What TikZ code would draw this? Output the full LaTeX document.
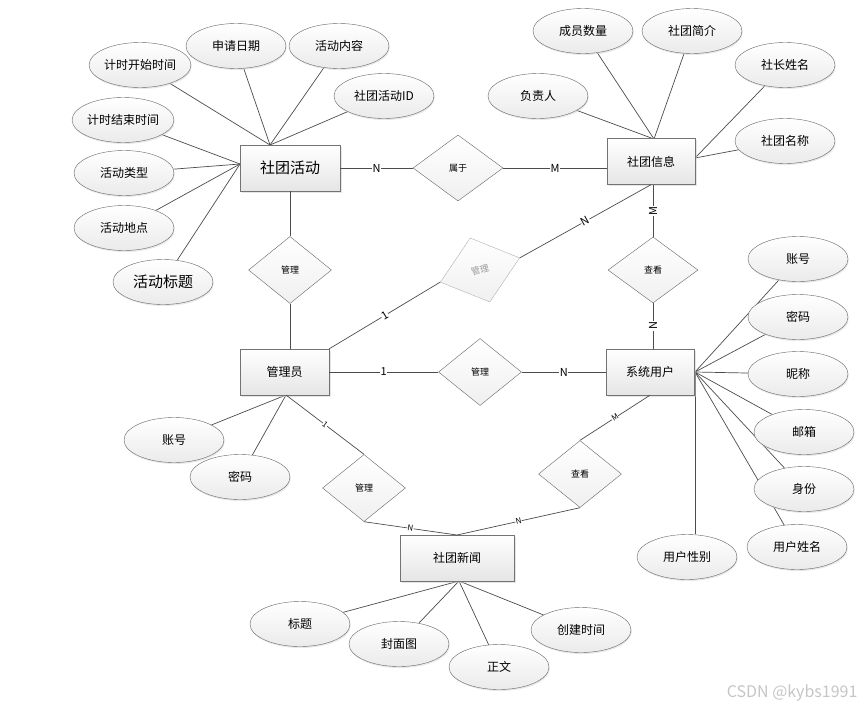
\documentclass[tikz,border=0pt]{standalone}
\usepackage{fontspec}
\setmainfont{Noto Sans CJK SC}
\usetikzlibrary{shapes.geometric,shadows}
\pgfdeclarelayer{bg}
\pgfsetlayers{bg,main}
\begin{document}
\begin{tikzpicture}[x=1pt,y=-1pt,
  ent/.style={rectangle, draw=gray!90!black, top color=white, bottom color=gray!20,
    drop shadow={shadow xshift=1.5pt,shadow yshift=-1.5pt,fill=gray!40},
    minimum width=88pt, minimum height=46pt, inner sep=0pt, font=\fontsize{12}{14}\selectfont},
  attr/.style={ellipse, draw=gray!80!black, top color=white, bottom color=gray!16,
    drop shadow={shadow xshift=0.8pt,shadow yshift=-1.5pt,fill=gray!35},
    minimum width=100pt, minimum height=45pt, inner sep=0pt, font=\fontsize{12}{14}\selectfont},
  rel/.style={diamond, draw=gray!80!black, top color=white, bottom color=gray!12,
    minimum width=83pt, minimum height=67pt, inner sep=0pt, font=\fontsize{9}{10}\selectfont},
  con/.style={draw=black!70, line width=0.7pt},
  lbl/.style={fill=white, inner sep=0.6pt, font=\fontsize{11}{12}\selectfont},
  slbl/.style={fill=white, inner sep=0.3pt, font=\fontsize{8}{9}\selectfont},
]
\useasboundingbox (0,0) rectangle (864,710);

% entities
\node[ent, minimum width=100pt, font=\fontsize{15}{16}\selectfont] (sa) at (290,168) {社团活动};
\node[ent] (si) at (651,161.5) {社团信息};
\node[ent, minimum width=89pt] (gly) at (284.5,372) {管理员};
\node[ent] (user) at (650,372) {系统用户};
\node[ent, minimum width=114pt] (news) at (457,558) {社团新闻};

% relationships
\node[rel, minimum width=90pt, minimum height=66pt] (sy) at (458,168) {属于};
\node[rel] (gl1) at (290,270) {管理};
\node[rel, rotate=17, draw=gray!60, text=gray!80] (gl2) at (480,270) {管理};
\node[rel, minimum width=90pt, minimum height=66pt] (ck1) at (653,270) {查看};
\node[rel] (gl3) at (480,372) {管理};
\node[rel] (gl4) at (364,488) {管理};
\node[rel] (ck2) at (580,474) {查看};

% attributes of 社团活动
\node[attr] (a1) at (140,65) {计时开始时间};
\node[attr] (a2) at (236,46) {申请日期};
\node[attr] (a3) at (339,46) {活动内容};
\node[attr] (a4) at (384,96) {社团活动ID};
\node[attr] (a5) at (123,120) {计时结束时间};
\node[attr] (a6) at (124,173) {活动类型};
\node[attr] (a7) at (124,228) {活动地点};
\node[attr, font=\fontsize{15}{16}\selectfont] (a8) at (163,282) {活动标题};

% attributes of 社团信息
\node[attr] (b1) at (583,31) {成员数量};
\node[attr] (b2) at (692,31) {社团简介};
\node[attr] (b3) at (785,65) {社长姓名};
\node[attr] (b4) at (538,96) {负责人};
\node[attr] (b5) at (785,141) {社团名称};

% attributes of 系统用户
\node[attr] (u1) at (798,259) {账号};
\node[attr] (u2) at (798,317) {密码};
\node[attr] (u3) at (798,374) {昵称};
\node[attr] (u4) at (804,432) {邮箱};
\node[attr] (u5) at (804,489) {身份};
\node[attr] (u6) at (797,547) {用户姓名};
\node[attr] (u7) at (687,557) {用户性别};

% attributes of 管理员
\node[attr] (g1) at (174,440) {账号};
\node[attr] (g2) at (240,477) {密码};

% attributes of 社团新闻
\node[attr] (n1) at (300,624) {标题};
\node[attr] (n2) at (399,644) {封面图};
\node[attr] (n3) at (499,667) {正文};
\node[attr] (n4) at (581,630) {创建时间};

% watermark
\node[text=gray!45, font=\fontsize{16}{18}\selectfont, anchor=east] (wm) at (861,693) {CSDN @kybs1991};

% junction points on entity borders
\coordinate (saT) at (270,145);
\coordinate (saL) at (240,164);
\coordinate (siT) at (654,139);
\coordinate (siR) at (695,158);
\coordinate (uR) at (695,372);
\coordinate (gB) at (286,395);
\coordinate (nT) at (457,535);
\coordinate (nB) at (459,581);

\begin{pgfonlayer}{bg}
\fill[white] (0,0) rectangle (864,710);
\foreach \a in {a1,a2,a3,a4} \draw[con] (\a) -- (saT);
\foreach \a in {a5,a6,a7,a8} \draw[con] (\a) -- (saL);
\foreach \a in {b1,b2,b4} \draw[con] (\a) -- (siT);
\foreach \a in {b3,b5} \draw[con] (\a) -- (siR);
\foreach \a in {u1,u2,u3,u4,u5,u6} \draw[con] (\a) -- (uR);
\draw[con] (uR) -- (uR |- u7.north);
\foreach \a in {g1,g2} \draw[con] (\a) -- (gB);
\foreach \a in {n1,n2,n3,n4} \draw[con] (\a) -- (nB);
\end{pgfonlayer}

% relationship connectors
\draw[con] (sa.east) -- node[lbl]{N} (sy.west);
\draw[con] (sy.east) -- node[lbl]{M} (sy.east -| si.west);
\draw[con] (sa.south) -- (gl1.north);
\draw[con] (gl1.south) -- (gl1.south |- gly.north);
\draw[con] (gly.north east) -- node[lbl,sloped]{1} (gl2.west);
\draw[con] (gl2.east) -- node[lbl,sloped]{N} (si.south);
\draw[con] (ck1.north) -- node[lbl,sloped]{M} (ck1.north |- si.south);
\draw[con] (ck1.south |- user.north) -- node[lbl,sloped]{N} (ck1.south);
\draw[con] (gly.east) -- node[lbl]{1} (gl3.west);
\draw[con] (gl3.east) -- node[lbl]{N} (user.west);
\draw[con] (gB) -- node[slbl,sloped]{1} (gl4.north);
\draw[con] (gl4.south) -- node[slbl,sloped]{N} (nT);
\draw[con] (user.south) -- node[slbl,sloped]{M} (ck2.north);
\draw[con] (ck2.south) -- node[slbl,sloped]{N} (nT);
\end{tikzpicture}
\end{document}
